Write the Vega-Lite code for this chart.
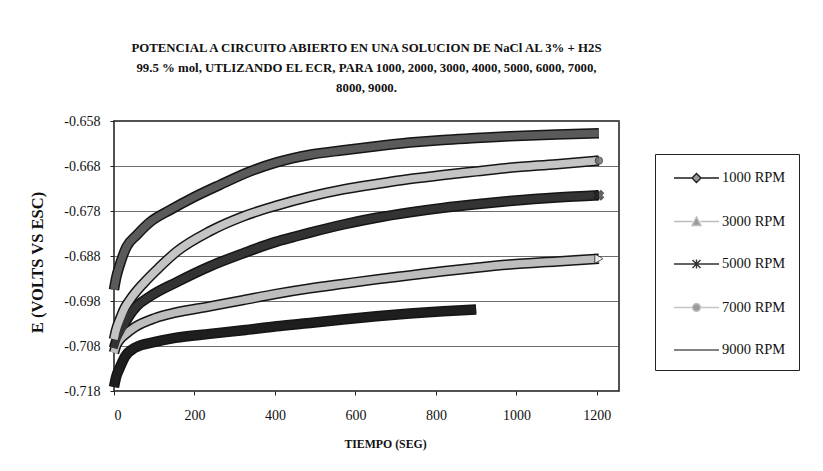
{
  "$schema": "https://vega.github.io/schema/vega-lite/v6.json",
  "width": 505,
  "height": 270,
  "autosize": {"type": "none"},
  "padding": {"left": 114, "top": 121, "right": 204, "bottom": 80},
  "background": "white",
  "config": {
    "font": "Liberation Serif",
    "view": {"stroke": "#1a1a1a", "strokeWidth": 1.5},
    "axis": {"labelFont": "Liberation Serif", "labelColor": "#111", "titleFont": "Liberation Serif", "titleColor": "#111", "domain": false, "tickColor": "#222"}
  },
  "title": {
    "text": ["POTENCIAL A CIRCUITO ABIERTO EN UNA SOLUCION DE NaCl AL 3% + H2S", "99.5 % mol, UTLIZANDO EL ECR, PARA 1000, 2000, 3000, 4000, 5000, 6000, 7000,", "8000, 9000."],
    "font": "Liberation Serif",
    "fontSize": 12.8,
    "fontWeight": "bold",
    "lineHeight": 20,
    "anchor": "middle",
    "frame": "group",
    "offset": 17,
    "color": "#111"
  },
  "data": {
    "values": [
      {"s": "1000 RPM", "t": 0, "e": -0.7171},
      {"s": "1000 RPM", "t": 5, "e": -0.7150},
      {"s": "1000 RPM", "t": 15, "e": -0.7127},
      {"s": "1000 RPM", "t": 27, "e": -0.7104},
      {"s": "1000 RPM", "t": 52, "e": -0.7084},
      {"s": "1000 RPM", "t": 102, "e": -0.7071},
      {"s": "1000 RPM", "t": 152, "e": -0.7062},
      {"s": "1000 RPM", "t": 238, "e": -0.7053},
      {"s": "1000 RPM", "t": 321, "e": -0.7045},
      {"s": "1000 RPM", "t": 404, "e": -0.7036},
      {"s": "1000 RPM", "t": 487, "e": -0.7029},
      {"s": "1000 RPM", "t": 569, "e": -0.7021},
      {"s": "1000 RPM", "t": 652, "e": -0.7014},
      {"s": "1000 RPM", "t": 735, "e": -0.7008},
      {"s": "1000 RPM", "t": 818, "e": -0.7003},
      {"s": "1000 RPM", "t": 900, "e": -0.6999},
      {"s": "3000 RPM", "t": 0, "e": -0.7095},
      {"s": "3000 RPM", "t": 5, "e": -0.7080},
      {"s": "3000 RPM", "t": 15, "e": -0.7065},
      {"s": "3000 RPM", "t": 27, "e": -0.7055},
      {"s": "3000 RPM", "t": 52, "e": -0.7038},
      {"s": "3000 RPM", "t": 102, "e": -0.7018},
      {"s": "3000 RPM", "t": 152, "e": -0.7006},
      {"s": "3000 RPM", "t": 238, "e": -0.6992},
      {"s": "3000 RPM", "t": 321, "e": -0.6978},
      {"s": "3000 RPM", "t": 404, "e": -0.6964},
      {"s": "3000 RPM", "t": 487, "e": -0.6952},
      {"s": "3000 RPM", "t": 569, "e": -0.6942},
      {"s": "3000 RPM", "t": 652, "e": -0.6932},
      {"s": "3000 RPM", "t": 735, "e": -0.6923},
      {"s": "3000 RPM", "t": 818, "e": -0.6914},
      {"s": "3000 RPM", "t": 900, "e": -0.6906},
      {"s": "3000 RPM", "t": 983, "e": -0.6899},
      {"s": "3000 RPM", "t": 1100, "e": -0.6892},
      {"s": "3000 RPM", "t": 1205, "e": -0.6886},
      {"s": "5000 RPM", "t": 0, "e": -0.7085},
      {"s": "5000 RPM", "t": 5, "e": -0.7070},
      {"s": "5000 RPM", "t": 15, "e": -0.7050},
      {"s": "5000 RPM", "t": 27, "e": -0.7030},
      {"s": "5000 RPM", "t": 40, "e": -0.7010},
      {"s": "5000 RPM", "t": 56, "e": -0.6992},
      {"s": "5000 RPM", "t": 89, "e": -0.6970},
      {"s": "5000 RPM", "t": 156, "e": -0.6938},
      {"s": "5000 RPM", "t": 238, "e": -0.6903},
      {"s": "5000 RPM", "t": 321, "e": -0.6874},
      {"s": "5000 RPM", "t": 404, "e": -0.6848},
      {"s": "5000 RPM", "t": 445, "e": -0.6838},
      {"s": "5000 RPM", "t": 487, "e": -0.6828},
      {"s": "5000 RPM", "t": 570, "e": -0.6810},
      {"s": "5000 RPM", "t": 652, "e": -0.6795},
      {"s": "5000 RPM", "t": 735, "e": -0.6783},
      {"s": "5000 RPM", "t": 818, "e": -0.6773},
      {"s": "5000 RPM", "t": 900, "e": -0.6765},
      {"s": "5000 RPM", "t": 983, "e": -0.6758},
      {"s": "5000 RPM", "t": 1100, "e": -0.6750},
      {"s": "5000 RPM", "t": 1205, "e": -0.6745},
      {"s": "7000 RPM", "t": 0, "e": -0.7065},
      {"s": "7000 RPM", "t": 5, "e": -0.7045},
      {"s": "7000 RPM", "t": 15, "e": -0.7020},
      {"s": "7000 RPM", "t": 27, "e": -0.6995},
      {"s": "7000 RPM", "t": 40, "e": -0.6977},
      {"s": "7000 RPM", "t": 73, "e": -0.6941},
      {"s": "7000 RPM", "t": 114, "e": -0.6904},
      {"s": "7000 RPM", "t": 156, "e": -0.6870},
      {"s": "7000 RPM", "t": 238, "e": -0.6825},
      {"s": "7000 RPM", "t": 321, "e": -0.6792},
      {"s": "7000 RPM", "t": 404, "e": -0.6768},
      {"s": "7000 RPM", "t": 487, "e": -0.6748},
      {"s": "7000 RPM", "t": 570, "e": -0.6732},
      {"s": "7000 RPM", "t": 652, "e": -0.6720},
      {"s": "7000 RPM", "t": 735, "e": -0.6709},
      {"s": "7000 RPM", "t": 818, "e": -0.6700},
      {"s": "7000 RPM", "t": 900, "e": -0.6692},
      {"s": "7000 RPM", "t": 983, "e": -0.6684},
      {"s": "7000 RPM", "t": 1100, "e": -0.6676},
      {"s": "7000 RPM", "t": 1205, "e": -0.6668},
      {"s": "9000 RPM", "t": 0, "e": -0.6955},
      {"s": "9000 RPM", "t": 5, "e": -0.6930},
      {"s": "9000 RPM", "t": 15, "e": -0.6898},
      {"s": "9000 RPM", "t": 31, "e": -0.6860},
      {"s": "9000 RPM", "t": 56, "e": -0.6834},
      {"s": "9000 RPM", "t": 89, "e": -0.6805},
      {"s": "9000 RPM", "t": 139, "e": -0.6778},
      {"s": "9000 RPM", "t": 197, "e": -0.6750},
      {"s": "9000 RPM", "t": 263, "e": -0.6722},
      {"s": "9000 RPM", "t": 338, "e": -0.6692},
      {"s": "9000 RPM", "t": 404, "e": -0.6672},
      {"s": "9000 RPM", "t": 487, "e": -0.6655},
      {"s": "9000 RPM", "t": 570, "e": -0.6645},
      {"s": "9000 RPM", "t": 652, "e": -0.6636},
      {"s": "9000 RPM", "t": 735, "e": -0.6628},
      {"s": "9000 RPM", "t": 818, "e": -0.6622},
      {"s": "9000 RPM", "t": 900, "e": -0.6618},
      {"s": "9000 RPM", "t": 983, "e": -0.6614},
      {"s": "9000 RPM", "t": 1100, "e": -0.6610},
      {"s": "9000 RPM", "t": 1205, "e": -0.6607}
    ]
  },
  "encoding": {
    "x": {
      "field": "t", "type": "quantitative",
      "scale": {"domain": [0, 1255], "nice": false, "zero": false},
      "axis": {
        "values": [0, 200, 400, 600, 800, 1000, 1200],
        "grid": false, "tickSize": 4, "labelFontSize": 14, "labelPadding": 13,
        "format": "d",
        "title": "TIEMPO (SEG)", "titleFontSize": 11.8, "titleFontWeight": "bold",
        "titleX": 271, "titleY": 52, "titleBaseline": "middle"
      }
    },
    "y": {
      "field": "e", "type": "quantitative",
      "scale": {"domain": [-0.718, -0.658], "nice": false, "zero": false},
      "axis": {
        "values": [-0.718, -0.708, -0.698, -0.688, -0.678, -0.668, -0.658],
        "labelExpr": "replace(format(datum.value, '.3f'), '\u2212', '-')",
        "grid": true, "gridColor": "#555", "gridWidth": 1, "gridOpacity": 0.85,
        "tickSize": 4, "labelFontSize": 14, "labelPadding": 10,
        "title": "E (VOLTS VS ESC)", "titleFontSize": 16.5, "titleFontWeight": "bold",
        "titleX": -77, "titleY": 141, "titleBaseline": "middle", "titleAngle": -90, "titleAlign": "center"
      }
    }
  },
  "layer": [
    {
      "mark": {"type": "line", "stroke": "#151515", "strokeWidth": 10.5, "interpolate": "monotone"},
      "encoding": {"detail": {"field": "s"}}
    },
    {
      "mark": {"type": "line", "strokeWidth": 7.5, "interpolate": "monotone"},
      "encoding": {
        "color": {
          "field": "s", "type": "nominal",
          "scale": {"domain": ["1000 RPM", "3000 RPM", "5000 RPM", "7000 RPM", "9000 RPM"], "range": ["#1e1e1e", "#bdbdbd", "#333333", "#c4c4c4", "#5a5a5a"]},
          "legend": {
            "title": null,
            "orient": "none", "legendX": 541, "legendY": 33,
            "strokeColor": "#222", "fillColor": "white",
            "padding": 13, "rowPadding": 24.5, "labelOffset": 32,
            "labelFont": "Liberation Serif", "labelFontSize": 14.5, "labelColor": "#111",
            "symbolSize": 400, "symbolStrokeWidth": 1.4,
            "encode": {"symbols": {"update": {"stroke": {"value": "#222"}, "fill": {"value": "#9a9a9a"}, "strokeWidth": {"value": 1.4}, "opacity": {"value": 1}}}}
          }
        }
      }
    },
    {
      "transform": [{"filter": "false"}],
      "mark": {"type": "point", "filled": false, "size": 400},
      "encoding": {
        "shape": {
          "field": "s", "type": "nominal",
          "scale": {
            "domain": ["1000 RPM", "3000 RPM", "5000 RPM", "7000 RPM", "9000 RPM"],
            "range": [
              "M-0.5,0H1.3M1.3,0L1.75,-0.45L2.2,0L1.75,0.45ZM2.2,0H4.0",
              "M-0.5,0H1.35M1.3,0.4L1.75,-0.45L2.2,0.4ZM2.15,0H4.0",
              "M-0.5,0H4.0M1.35,-0.4L2.15,0.4M1.35,0.4L2.15,-0.4M1.75,-0.45V0.45",
              "M-0.5,0H1.35M1.35,0A0.4,0.4 0 1 1 2.15,0A0.4,0.4 0 1 1 1.35,0ZM2.15,0H4.0",
              "M-0.5,0H4.0"
            ]
          },
          "legend": {"title": null}
        }
      }
    },
    {
      "transform": [{"filter": "datum.s == '7000 RPM' && datum.t == 1205"}],
      "mark": {"type": "point", "shape": "circle", "filled": true, "size": 55, "fill": "#555", "stroke": "#111", "strokeWidth": 1}
    },
    {
      "transform": [{"filter": "datum.s == '3000 RPM' && datum.t == 1205"}],
      "mark": {"type": "point", "shape": "triangle-right", "filled": true, "size": 90, "fill": "white", "stroke": "#111", "strokeWidth": 1}
    },
    {
      "transform": [{"filter": "datum.s == '5000 RPM' && datum.t == 1205"}],
      "mark": {"type": "point", "shape": "cross", "filled": true, "size": 90, "fill": "#222", "stroke": "#111", "strokeWidth": 1, "angle": 45}
    }
  ]
}
